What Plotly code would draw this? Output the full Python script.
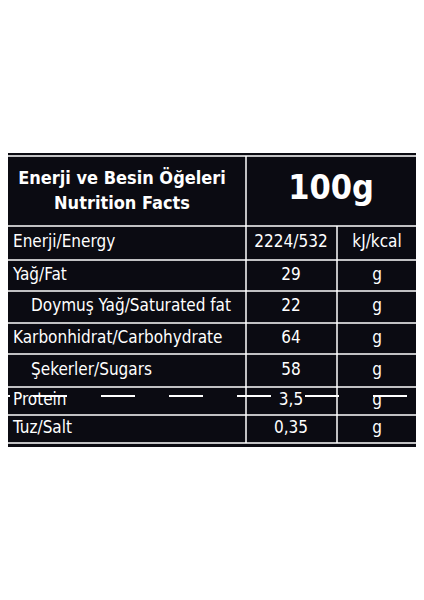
import plotly.graph_objects as go

labels = ["Enerji/Energy", "Yağ/Fat", "Doymuş Yağ/Saturated fat", "Karbonhidrat/Carbohydrate",
          "Şekerler/Sugars", "Protein", "Tuz/Salt"]
indent = [False, False, True, False, True, False, False]
values = ["2224/532", "29", "22", "64", "58", "3,5", "0,35"]
units = ["kJ/kcal", "g", "g", "g", "g", "g", "g"]
header_left = ["Enerji ve Besin Öğeleri", "Nutrition Facts"]
header_right = "100g"

FONT = "DejaVu Sans Condensed, Liberation Sans Narrow, sans-serif"
OFF = 8  # page body margin offset
row_lines = [226, 260, 291, 323, 354, 387, 415, 443]
row_centers = [(row_lines[i] + row_lines[i + 1]) / 2 for i in range(len(labels))]

fig = go.Figure()
shapes = [
    dict(type="rect", x0=3, x1=420, y0=153, y1=447, fillcolor="#0b0b12", line_width=0, layer="below"),
    dict(type="rect", x0=5, x1=418, y0=156, y1=443, line=dict(color="white", width=1.5)),
    dict(type="line", x0=246, x1=246, y0=156, y1=443, line=dict(color="white", width=1.5)),
    dict(type="line", x0=337, x1=337, y0=226, y1=443, line=dict(color="white", width=1.5)),
]
for y in row_lines[:-1]:
    shapes.append(dict(type="line", x0=5, x1=418, y0=y, y1=y, line=dict(color="white", width=1.5)))
shapes.append(dict(type="line", x0=33, x1=424, y0=396, y1=396, line=dict(color="white", width=2, dash="34px,34px")))
shapes.append(dict(type="line", x0=0, x1=10, y0=396, y1=396, line=dict(color="white", width=2)))

fig.add_trace(go.Scatter(x=[31 if i else 13 for i in indent], y=row_centers, text=labels, mode="text",
                         textposition="middle right", textfont=dict(family=FONT, size=17, color="white")))
fig.add_trace(go.Scatter(x=[291] * len(values), y=row_centers, text=values, mode="text",
                         textposition="middle center", textfont=dict(family=FONT, size=17, color="white")))
fig.add_trace(go.Scatter(x=[377] * len(units), y=row_centers, text=units, mode="text",
                         textposition="middle center", textfont=dict(family=FONT, size=17, color="white")))
fig.add_trace(go.Scatter(x=[122, 122], y=[179, 204], text=[f"<b>{t}</b>" for t in header_left], mode="text",
                         textposition="middle center", textfont=dict(family=FONT, size=18, color="white")))
fig.add_trace(go.Scatter(x=[331], y=[190], text=[f"<b>{header_right}</b>"], mode="text",
                         textposition="middle center", textfont=dict(family=FONT, size=34, color="white")))

fig.update_layout(width=424, height=600, margin=dict(l=0, r=0, t=0, b=0), showlegend=False,
                  paper_bgcolor="white", plot_bgcolor="white", shapes=shapes,
                  xaxis=dict(range=[OFF, 424 + OFF], visible=False, fixedrange=True),
                  yaxis=dict(range=[600 + OFF, OFF], visible=False, fixedrange=True))
fig.write_html("out.html", config={"displayModeBar": False})
